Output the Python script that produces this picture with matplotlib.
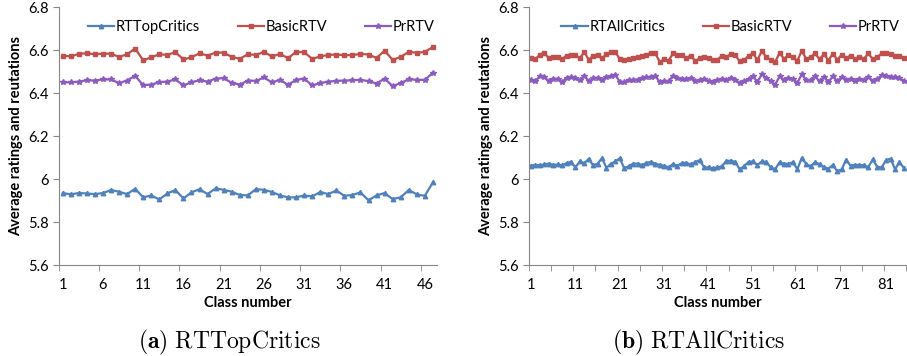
import numpy as np
import matplotlib
matplotlib.use("Agg")
import matplotlib.pyplot as plt

plt.rcParams['font.family'] = ['Lato', 'DejaVu Sans']
plt.rcParams['mathtext.fontset'] = 'cm'

# (a) RTTopCritics, 47 classes
top_classes = list(range(1, 48))
top_rt = [5.935, 5.929, 5.935, 5.933, 5.930, 5.935, 5.949, 5.941, 5.930, 5.955,
          5.915, 5.924, 5.905, 5.933, 5.949, 5.910, 5.938, 5.953, 5.930, 5.957,
          5.950, 5.941, 5.926, 5.924, 5.953, 5.950, 5.940, 5.924, 5.915, 5.915,
          5.924, 5.919, 5.940, 5.930, 5.947, 5.922, 5.926, 5.938, 5.901, 5.924,
          5.935, 5.907, 5.915, 5.949, 5.929, 5.922, 5.985]
top_basic = [6.575, 6.571, 6.583, 6.586, 6.581, 6.584, 6.584, 6.569, 6.581, 6.608,
             6.553, 6.567, 6.581, 6.578, 6.591, 6.557, 6.567, 6.586, 6.575, 6.589,
             6.589, 6.569, 6.560, 6.581, 6.578, 6.592, 6.571, 6.583, 6.563, 6.592,
             6.591, 6.560, 6.571, 6.578, 6.580, 6.577, 6.577, 6.583, 6.580, 6.564,
             6.598, 6.555, 6.569, 6.592, 6.588, 6.592, 6.615]
top_pr = [6.451, 6.450, 6.454, 6.460, 6.459, 6.464, 6.464, 6.447, 6.459, 6.481,
          6.437, 6.440, 6.451, 6.454, 6.464, 6.436, 6.451, 6.460, 6.454, 6.468,
          6.470, 6.448, 6.440, 6.459, 6.457, 6.473, 6.450, 6.462, 6.439, 6.462,
          6.468, 6.436, 6.447, 6.454, 6.457, 6.459, 6.460, 6.462, 6.456, 6.445,
          6.468, 6.433, 6.447, 6.465, 6.462, 6.462, 6.495]

# (b) RTAllCritics, 85 classes
all_classes = list(range(1, 86))
all_rt = [6.062, 6.066, 6.064, 6.068, 6.072, 6.066, 6.068, 6.064, 6.074, 6.080,
          6.055, 6.082, 6.074, 6.094, 6.064, 6.072, 6.098, 6.052, 6.072, 6.082,
          6.097, 6.050, 6.060, 6.072, 6.072, 6.066, 6.075, 6.080, 6.072, 6.066,
          6.062, 6.055, 6.070, 6.062, 6.075, 6.076, 6.068, 6.080, 6.088, 6.055,
          6.054, 6.050, 6.054, 6.060, 6.084, 6.086, 6.080, 6.046, 6.060, 6.080,
          6.082, 6.066, 6.082, 6.080, 6.055, 6.046, 6.078, 6.072, 6.070, 6.078,
          6.046, 6.098, 6.070, 6.060, 6.078, 6.070, 6.056, 6.048, 6.066, 6.036,
          6.046, 6.090, 6.062, 6.066, 6.066, 6.064, 6.056, 6.092, 6.056, 6.055,
          6.088, 6.095, 6.046, 6.078, 6.052]
all_basic = [6.565, 6.558, 6.580, 6.588, 6.562, 6.570, 6.568, 6.558, 6.575, 6.580,
             6.576, 6.562, 6.592, 6.556, 6.575, 6.580, 6.562, 6.582, 6.590, 6.592,
             6.558, 6.553, 6.560, 6.566, 6.570, 6.572, 6.580, 6.586, 6.586, 6.545,
             6.558, 6.552, 6.585, 6.578, 6.578, 6.565, 6.575, 6.550, 6.562, 6.568,
             6.563, 6.556, 6.555, 6.575, 6.568, 6.582, 6.578, 6.548, 6.553, 6.575,
             6.585, 6.555, 6.596, 6.568, 6.555, 6.545, 6.588, 6.560, 6.578, 6.570,
             6.550, 6.598, 6.560, 6.568, 6.585, 6.558, 6.582, 6.552, 6.584, 6.555,
             6.580, 6.565, 6.575, 6.560, 6.570, 6.560, 6.585, 6.558, 6.568, 6.585,
             6.588, 6.582, 6.572, 6.575, 6.565]
all_pr = [6.462, 6.458, 6.478, 6.476, 6.455, 6.468, 6.466, 6.450, 6.472, 6.475,
          6.470, 6.460, 6.482, 6.455, 6.470, 6.472, 6.460, 6.476, 6.480, 6.486,
          6.452, 6.450, 6.460, 6.462, 6.463, 6.470, 6.474, 6.476, 6.482, 6.450,
          6.456, 6.455, 6.480, 6.470, 6.468, 6.466, 6.470, 6.455, 6.462, 6.468,
          6.455, 6.450, 6.460, 6.468, 6.460, 6.472, 6.460, 6.448, 6.455, 6.465,
          6.478, 6.452, 6.488, 6.470, 6.455, 6.440, 6.478, 6.460, 6.470, 6.465,
          6.448, 6.488, 6.460, 6.462, 6.478, 6.455, 6.476, 6.452, 6.478, 6.455,
          6.475, 6.462, 6.468, 6.455, 6.466, 6.462, 6.475, 6.458, 6.465, 6.484,
          6.478, 6.474, 6.476, 6.470, 6.458]

BLUE = '#4F81BD'
RED = '#C0504D'
PURPLE = '#8C5BC0'
GRID = '#868686'


def draw_panel(ax, x, rt, basic, pr, rt_name, label_step, caption):
    n = len(x)
    ax.plot(x, rt, color=BLUE, lw=1.6, marker='^', ms=3.2, label=rt_name)
    ax.plot(x, basic, color=RED, lw=1.6, marker='s', ms=3.0, label='BasicRTV')
    ax.plot(x, pr, color=PURPLE, lw=1.6, marker='*', ms=4.2, label='PrRTV')
    ax.set_xlim(0.5, n + 0.5)
    ax.set_ylim(5.6, 6.8)
    ax.set_yticks([5.6, 5.8, 6.0, 6.2, 6.4, 6.6, 6.8])
    ax.set_yticklabels(['5.6', '5.8', '6', '6.2', '6.4', '6.6', '6.8'])
    ax.set_xticks(list(range(1, n + 1, label_step)))
    ax.set_xticks(np.arange(0.5, n + 0.6, 5), minor=True)
    ax.tick_params(axis='x', which='major', length=0, labelsize=10.5, pad=9)
    ax.tick_params(axis='x', which='minor', length=4, color=GRID)
    ax.tick_params(axis='y', length=4, color=GRID, labelsize=10.5)
    for s in ['top', 'right']:
        ax.spines[s].set_visible(False)
    for s in ['left', 'bottom']:
        ax.spines[s].set_color(GRID)
    ax.set_xlabel('Class number', fontsize=10.5, fontweight='bold', labelpad=3)
    ax.set_ylabel('Average ratings and reutations', fontsize=10.5,
                  fontweight='bold', labelpad=3)
    ax.legend(loc='upper center', ncol=3, frameon=False, fontsize=10.5,
              bbox_to_anchor=(0.535, 1.0), columnspacing=2.6, handlelength=1.8,
              handletextpad=0.1)
    ax.text(0.45, -0.245, caption, transform=ax.transAxes, ha='center',
            va='top', fontsize=17)


fig = plt.figure(figsize=(9.07, 3.56), dpi=100)
ax1 = fig.add_axes([0.0647, 0.2556, 0.417, 0.724])
ax2 = fig.add_axes([0.583, 0.2556, 0.416, 0.724])

draw_panel(ax1, top_classes, top_rt, top_basic, top_pr, 'RTTopCritics', 5,
           r'$\mathbf{(a)}\ \mathrm{RTTopCritics}$')
draw_panel(ax2, all_classes, all_rt, all_basic, all_pr, 'RTAllCritics', 10,
           r'$\mathbf{(b)}\ \mathrm{RTAllCritics}$')

fig.savefig('out.png', dpi=100)
